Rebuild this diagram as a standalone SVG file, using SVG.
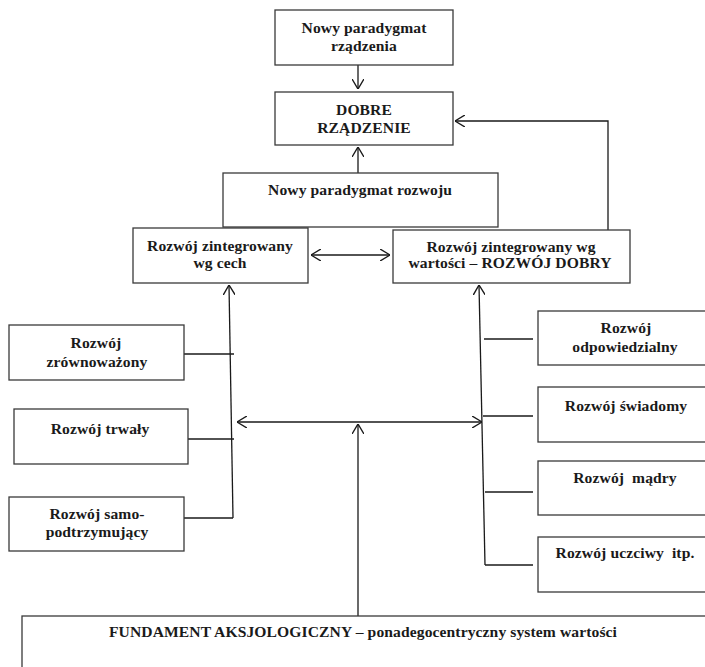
<svg xmlns="http://www.w3.org/2000/svg" width="705" height="667" viewBox="0 0 705 667">
  <defs>
    <marker id="open-arrow" viewBox="0 0 10 12" refX="10" refY="6" markerWidth="10" markerHeight="12" markerUnits="userSpaceOnUse" orient="auto-start-reverse">
      <path d="M0,0 L10,6 L0,12" fill="none" stroke="#1a1a1a" stroke-width="1.4"/>
    </marker>
  </defs>
  <style>
    .box { fill: #ffffff; stroke: #3a3a3a; stroke-width: 1.3; }
    .lbl { font-family: "Liberation Serif", "Times New Roman", serif; font-weight: bold; font-size: 15.6px; letter-spacing: 0.1px; fill: #1a1a1a; text-anchor: middle; }
    .wire { fill: none; stroke: #1a1a1a; stroke-width: 1.3; }
    .arrow { marker-end: url(#open-arrow); }
    .both { marker-start: url(#open-arrow); marker-end: url(#open-arrow); }
  </style>
  <rect width="705" height="667" fill="#ffffff"/>

  <!-- connectors -->
  <g id="connectors">
    <line class="wire arrow" x1="358" y1="65" x2="358" y2="89"/>
    <line class="wire arrow" x1="358" y1="173" x2="358" y2="147"/>
    <line class="wire both" x1="311" y1="255" x2="390" y2="255"/>
    <polyline class="wire arrow" points="608,251 608,121 455,121"/>
    <!-- left bundle -->
    <line class="wire arrow" x1="233" y1="518" x2="229" y2="285"/>
    <line class="wire" x1="184" y1="354" x2="234" y2="354"/>
    <line class="wire" x1="185" y1="439" x2="234" y2="439"/>
    <line class="wire" x1="184" y1="518" x2="233" y2="518"/>
    <!-- right bundle -->
    <line class="wire arrow" x1="485" y1="565" x2="479" y2="285"/>
    <line class="wire" x1="484" y1="339" x2="533" y2="339"/>
    <line class="wire" x1="483" y1="416" x2="533" y2="416"/>
    <line class="wire" x1="485" y1="492" x2="533" y2="492"/>
    <line class="wire" x1="485" y1="565" x2="533" y2="565"/>
    <!-- middle -->
    <line class="wire both" x1="237" y1="422" x2="482" y2="422"/>
    <line class="wire arrow" x1="358" y1="616" x2="358" y2="424"/>
  </g>

  <g id="node-paradygmat-rzadzenia">
    <rect class="box" x="275" y="10" width="178" height="55"/>
    <text class="lbl" x="364" y="33">Nowy paradygmat</text>
    <text class="lbl" x="364" y="51">rządzenia</text>
  </g>

  <g id="node-dobre-rzadzenie">
    <rect class="box" x="275" y="92" width="178" height="53"/>
    <text class="lbl" x="364" y="115">DOBRE</text>
    <text class="lbl" x="364" y="133">RZĄDZENIE</text>
  </g>

  <g id="node-paradygmat-rozwoju">
    <rect class="box" x="223" y="173" width="275" height="54"/>
    <text class="lbl" x="360" y="195">Nowy paradygmat rozwoju</text>
  </g>

  <g id="node-wg-cech">
    <rect class="box" x="133" y="228" width="175" height="55"/>
    <text class="lbl" x="220" y="251">Rozwój zintegrowany</text>
    <text class="lbl" x="220" y="268">wg cech</text>
  </g>

  <g id="node-wg-wartosci">
    <rect class="box" x="393" y="230" width="237" height="53"/>
    <text class="lbl" x="511" y="252">Rozwój zintegrowany wg</text>
    <text class="lbl" x="510" y="268">wartości – ROZWÓJ DOBRY</text>
  </g>

  <g id="node-zrownowazony">
    <rect class="box" x="9" y="325" width="175" height="55"/>
    <text class="lbl" x="96" y="348">Rozwój</text>
    <text class="lbl" x="97" y="367">zrównoważony</text>
  </g>

  <g id="node-trwaly">
    <rect class="box" x="14" y="409" width="174" height="55"/>
    <text class="lbl" x="100" y="434">Rozwój trwały</text>
  </g>

  <g id="node-samopodtrzymujacy">
    <rect class="box" x="9" y="497" width="175" height="54"/>
    <text class="lbl" x="97" y="519">Rozwój samo-</text>
    <text class="lbl" x="97" y="537">podtrzymujący</text>
  </g>

  <g id="node-odpowiedzialny">
    <rect class="box" x="538" y="311" width="180" height="54"/>
    <text class="lbl" x="626" y="333">Rozwój</text>
    <text class="lbl" x="625" y="352">odpowiedzialny</text>
  </g>

  <g id="node-swiadomy">
    <rect class="box" x="538" y="387" width="180" height="55"/>
    <text class="lbl" x="626" y="411">Rozwój świadomy</text>
  </g>

  <g id="node-madry">
    <rect class="box" x="538" y="461" width="180" height="54"/>
    <text class="lbl" x="625" y="483" xml:space="preserve">Rozwój  mądry</text>
  </g>

  <g id="node-uczciwy">
    <rect class="box" x="538" y="537" width="180" height="55"/>
    <text class="lbl" x="625" y="558" xml:space="preserve">Rozwój uczciwy  itp.</text>
  </g>

  <g id="node-fundament">
    <rect class="box" x="22" y="616" width="700" height="70"/>
    <text class="lbl" x="363" y="637">FUNDAMENT AKSJOLOGICZNY – ponadegocentryczny system wartości</text>
  </g>
</svg>
